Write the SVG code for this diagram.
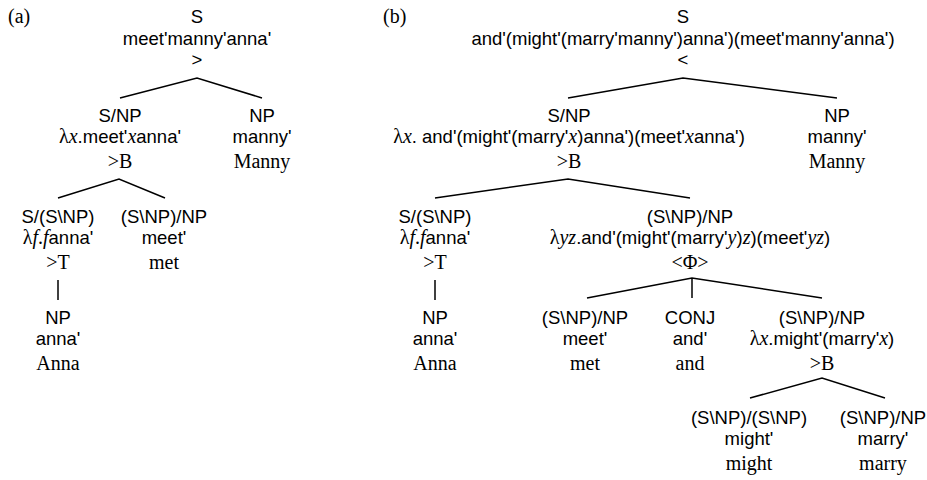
<svg xmlns="http://www.w3.org/2000/svg" width="927" height="480" viewBox="0 0 927 480">
  <style>
    text { fill: #000; text-anchor: middle; }
    .s { font-family: "Liberation Sans", Arial, sans-serif; font-size: 18.5px; }
    .r { font-family: "Liberation Serif", "Times New Roman", serif; font-size: 20px; }
    .g { font-family: "Liberation Serif", "Times New Roman", serif; font-size: 20px; }
    .i { font-family: "Liberation Serif", "Times New Roman", serif; font-size: 20px; font-style: italic; }
    .tag { text-anchor: start; }
    .edge { stroke: #000; stroke-width: 1.5; fill: none; }
  </style>

  <!-- panel labels -->
  <text class="r tag" x="8" y="23">(a)</text>
  <text class="r tag" x="383" y="23">(b)</text>

  <!-- ===== derivation (a) ===== -->
  <g id="a-root">
    <text class="s" x="197" y="23">S</text>
    <text class="s" x="197" y="45">meet'manny'anna'</text>
    <text class="s" x="197" y="66">&gt;</text>
  </g>
  <g id="a-snp">
    <text class="s" x="120" y="122">S/NP</text>
    <text class="s" x="120" y="143"><tspan class="g">λ</tspan><tspan class="i">x</tspan>.meet'<tspan class="i">x</tspan>anna'</text>
    <text class="r" x="120" y="168">&gt;B</text>
  </g>
  <g id="a-manny">
    <text class="s" x="262" y="122">NP</text>
    <text class="s" x="262" y="143">manny'</text>
    <text class="r" x="262" y="168">Manny</text>
  </g>
  <g id="a-raised">
    <text class="s" x="58" y="223">S/(S\NP)</text>
    <text class="s" x="58" y="244"><tspan class="g">λ</tspan><tspan class="i">f</tspan><tspan class="g">.</tspan><tspan class="i">f</tspan>anna'</text>
    <text class="r" x="58" y="269">&gt;T</text>
  </g>
  <g id="a-met">
    <text class="s" x="164" y="223">(S\NP)/NP</text>
    <text class="s" x="164" y="244">meet'</text>
    <text class="r" x="164" y="269">met</text>
  </g>
  <g id="a-anna">
    <text class="s" x="58" y="324">NP</text>
    <text class="s" x="58" y="345">anna'</text>
    <text class="r" x="58" y="370">Anna</text>
  </g>

  <!-- ===== derivation (b) ===== -->
  <g id="b-root">
    <text class="s" x="683" y="23">S</text>
    <text class="s" x="683" y="45">and'(might'(marry'manny')anna')(meet'manny'anna')</text>
    <text class="s" x="683" y="66">&lt;</text>
  </g>
  <g id="b-snp">
    <text class="s" x="569" y="122">S/NP</text>
    <text class="s" x="569" y="143"><tspan class="g">λ</tspan><tspan class="i">x</tspan>. and'(might'(marry'<tspan class="i">x</tspan>)anna')(meet'<tspan class="i">x</tspan>anna')</text>
    <text class="r" x="569" y="168">&gt;B</text>
  </g>
  <g id="b-manny">
    <text class="s" x="837" y="122">NP</text>
    <text class="s" x="837" y="143">manny'</text>
    <text class="r" x="837" y="168">Manny</text>
  </g>
  <g id="b-raised">
    <text class="s" x="435" y="223">S/(S\NP)</text>
    <text class="s" x="435" y="244"><tspan class="g">λ</tspan><tspan class="i">f</tspan><tspan class="g">.</tspan><tspan class="i">f</tspan>anna'</text>
    <text class="r" x="435" y="269">&gt;T</text>
  </g>
  <g id="b-coord">
    <text class="s" x="690" y="223">(S\NP)/NP</text>
    <text class="s" x="690" y="244"><tspan class="g">λ</tspan><tspan class="i">yz</tspan>.and'(might'(marry'<tspan class="i">y</tspan>)<tspan class="i">z</tspan>)(meet'<tspan class="i">yz</tspan>)</text>
    <text class="r" x="690" y="269">&lt;Φ&gt;</text>
  </g>
  <g id="b-anna">
    <text class="s" x="435" y="324">NP</text>
    <text class="s" x="435" y="345">anna'</text>
    <text class="r" x="435" y="370">Anna</text>
  </g>
  <g id="b-met">
    <text class="s" x="585" y="324">(S\NP)/NP</text>
    <text class="s" x="585" y="345">meet'</text>
    <text class="r" x="585" y="370">met</text>
  </g>
  <g id="b-and">
    <text class="s" x="690" y="324">CONJ</text>
    <text class="s" x="690" y="345">and'</text>
    <text class="r" x="690" y="370">and</text>
  </g>
  <g id="b-composed">
    <text class="s" x="822" y="324">(S\NP)/NP</text>
    <text class="s" x="822" y="345"><tspan class="g">λ</tspan><tspan class="i">x</tspan>.might'(marry'<tspan class="i">x</tspan>)</text>
    <text class="r" x="822" y="370">&gt;B</text>
  </g>
  <g id="b-might">
    <text class="s" x="749" y="424">(S\NP)/(S\NP)</text>
    <text class="s" x="749" y="445">might'</text>
    <text class="r" x="749" y="470">might</text>
  </g>
  <g id="b-marry">
    <text class="s" x="883" y="424">(S\NP)/NP</text>
    <text class="s" x="883" y="445">marry'</text>
    <text class="r" x="883" y="470">marry</text>
  </g>

  <!-- tree branches -->
  <g id="connectors" class="edge">
    <path d="M120,98 L197,78 L262,98"/>
    <path d="M58,198 L119,179 L165,198"/>
    <path d="M58,280 V300"/>
    <path d="M568,98 L683,78 L837,98"/>
    <path d="M435,198 L568,179 L690,198"/>
    <path d="M435,280 V300"/>
    <path d="M587,298 L692,278 L822,298"/>
    <path d="M692,278 V298"/>
    <path d="M750,398 L822,378 L885,398"/>
  </g>
</svg>
